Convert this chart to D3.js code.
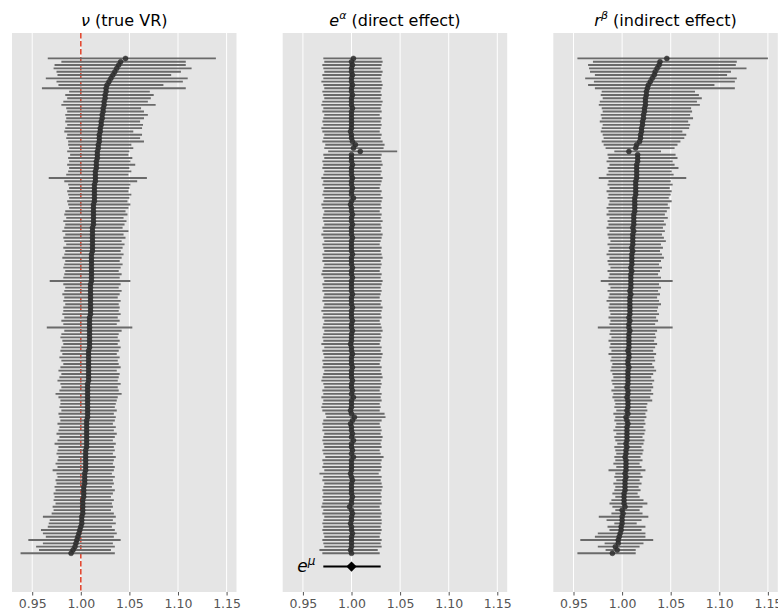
<!DOCTYPE html>
<html>
<head>
<meta charset="utf-8">
<script src="https://cdn.jsdelivr.net/npm/d3@7"></script>
<style>
  body { margin: 0; background: #fff; }
  svg { display: block; font-family: "DejaVu Sans", sans-serif; }
</style>
</head>
<body>
<svg id="chart" width="778" height="612"></svg>
<script>
// rows are listed from the top of the plot to the bottom (150 units)
var nuMean = [
  1.046,1.041,1.039,1.037,1.035,1.033,1.031,1.029,1.027,1.026,
  1.026,1.025,1.025,1.024,1.024,1.023,1.023,1.022,1.022,1.021,
  1.021,1.020,1.020,1.019,1.019,1.019,1.018,1.018,1.017,1.017,
  1.017,1.016,1.016,1.016,1.015,1.015,1.015,1.015,1.014,1.014,
  1.014,1.014,1.014,1.014,1.013,1.013,1.013,1.013,1.013,1.013,
  1.013,1.012,1.012,1.012,1.012,1.012,1.012,1.012,1.012,1.011,
  1.011,1.011,1.011,1.011,1.011,1.011,1.011,1.011,1.010,1.010,
  1.010,1.010,1.010,1.010,1.010,1.010,1.010,1.010,1.009,1.009,
  1.009,1.009,1.009,1.009,1.009,1.009,1.009,1.009,1.008,1.008,
  1.008,1.008,1.008,1.008,1.008,1.008,1.008,1.008,1.007,1.007,
  1.007,1.007,1.007,1.007,1.007,1.007,1.007,1.007,1.007,1.006,
  1.006,1.006,1.006,1.006,1.006,1.006,1.006,1.006,1.005,1.005,
  1.005,1.005,1.005,1.005,1.005,1.004,1.004,1.004,1.004,1.003,
  1.003,1.003,1.003,1.002,1.002,1.002,1.002,1.002,1.001,1.001,
  1.001,1.000,0.999,0.998,0.997,0.996,0.995,0.994,0.992,0.990
];
var nuLo = [
  0.966,0.980,0.973,0.972,0.975,0.976,0.964,0.975,0.977,0.960,
  0.988,0.984,0.986,0.982,0.980,0.985,0.986,0.984,0.985,0.984,
  0.986,0.984,0.983,0.986,0.985,0.987,0.987,0.988,0.986,0.989,
  0.987,0.988,0.986,0.988,0.987,0.985,0.967,0.983,0.987,0.988,
  0.986,0.987,0.988,0.986,0.987,0.988,0.984,0.983,0.985,0.982,
  0.984,0.983,0.981,0.984,0.982,0.983,0.985,0.982,0.984,0.983,
  0.981,0.984,0.983,0.982,0.984,0.983,0.982,0.968,0.982,0.984,
  0.983,0.981,0.983,0.982,0.984,0.982,0.982,0.981,0.983,0.980,
  0.982,0.965,0.983,0.980,0.979,0.981,0.982,0.980,0.979,0.981,
  0.978,0.980,0.982,0.979,0.977,0.980,0.978,0.976,0.979,0.980,
  0.978,0.974,0.977,0.979,0.979,0.978,0.980,0.977,0.978,0.979,
  0.976,0.978,0.977,0.975,0.978,0.976,0.973,0.977,0.976,0.975,
  0.977,0.976,0.974,0.976,0.971,0.975,0.976,0.974,0.975,0.973,
  0.974,0.972,0.973,0.972,0.974,0.971,0.972,0.970,0.961,0.968,
  0.967,0.966,0.959,0.961,0.964,0.946,0.961,0.954,0.957,0.938
];
var nuHi = [
  1.139,1.108,1.108,1.114,1.103,1.093,1.110,1.105,1.085,1.108,
  1.071,1.075,1.072,1.069,1.077,1.062,1.065,1.069,1.065,1.061,
  1.064,1.063,1.054,1.063,1.061,1.065,1.052,1.054,1.050,1.049,
  1.053,1.051,1.056,1.050,1.052,1.049,1.068,1.058,1.051,1.050,
  1.049,1.052,1.050,1.048,1.051,1.049,1.046,1.048,1.044,1.047,
  1.045,1.043,1.049,1.044,1.046,1.042,1.045,1.043,1.041,1.044,
  1.042,1.040,1.043,1.041,1.039,1.042,1.040,1.051,1.041,1.039,
  1.042,1.040,1.038,1.041,1.039,1.040,1.039,1.041,1.038,1.040,
  1.037,1.053,1.042,1.039,1.038,1.040,1.038,1.041,1.039,1.037,
  1.040,1.038,1.039,1.041,1.037,1.040,1.039,1.038,1.041,1.038,
  1.039,1.042,1.038,1.037,1.036,1.035,1.037,1.034,1.036,1.035,
  1.033,1.036,1.034,1.037,1.035,1.033,1.036,1.034,1.035,1.033,
  1.036,1.034,1.033,1.035,1.034,1.032,1.035,1.033,1.034,1.032,
  1.035,1.033,1.031,1.034,1.032,1.033,1.031,1.034,1.036,1.033,
  1.036,1.032,1.035,1.037,1.034,1.041,1.033,1.035,1.031,1.035
];

var alphaMean = [
  1.002,1.000,1.001,1.000,1.000,1.001,1.000,1.000,1.001,1.000,
  1.000,1.001,1.000,1.000,1.000,1.001,1.000,1.000,1.000,1.000,
  1.000,1.000,0.999,1.000,1.000,1.001,1.004,1.002,1.009,1.000,
  1.000,1.000,1.001,1.000,1.000,1.000,1.001,1.000,1.000,1.001,
  1.000,1.000,1.002,1.000,0.999,1.000,1.000,1.001,1.000,1.000,
  1.001,1.000,1.000,1.000,1.001,1.000,1.000,1.000,1.000,1.001,
  1.000,1.000,1.000,1.001,1.000,1.000,1.001,1.000,1.000,1.000,
  1.000,1.001,1.000,1.000,1.000,1.001,1.000,1.000,1.000,1.001,
  1.000,1.000,1.001,1.000,1.000,1.000,0.999,1.000,1.000,1.001,
  1.000,1.000,1.000,1.001,1.000,1.000,1.000,1.001,1.000,1.000,
  1.001,1.000,1.002,1.000,1.000,1.000,0.999,1.000,1.003,1.001,
  0.999,1.000,1.000,1.001,1.000,1.002,1.000,1.000,1.001,1.000,
  1.002,1.000,1.000,1.000,1.000,0.999,1.000,1.001,1.000,1.000,
  1.000,1.000,1.001,1.000,1.000,0.998,1.000,1.001,1.000,1.000,
  0.999,1.000,1.000,1.001,1.000,1.000,1.000,1.000,0.999,1.000
];
var alphaLo = [
  0.971,0.972,0.970,0.971,0.972,0.970,0.971,0.969,0.971,0.972,
  0.970,0.971,0.972,0.970,0.969,0.971,0.970,0.972,0.971,0.970,
  0.971,0.969,0.970,0.972,0.971,0.970,0.973,0.972,0.976,0.971,
  0.972,0.970,0.971,0.970,0.972,0.971,0.969,0.971,0.970,0.972,
  0.971,0.970,0.972,0.971,0.969,0.970,0.972,0.971,0.970,0.971,
  0.972,0.970,0.971,0.969,0.971,0.972,0.970,0.971,0.972,0.970,
  0.971,0.970,0.972,0.971,0.970,0.969,0.971,0.972,0.970,0.971,
  0.970,0.972,0.971,0.970,0.972,0.971,0.969,0.971,0.970,0.972,
  0.971,0.970,0.972,0.971,0.970,0.971,0.969,0.972,0.970,0.971,
  0.972,0.970,0.971,0.970,0.972,0.971,0.970,0.969,0.971,0.972,
  0.970,0.971,0.969,0.971,0.970,0.969,0.970,0.973,0.974,0.971,
  0.970,0.971,0.970,0.972,0.971,0.970,0.971,0.972,0.970,0.971,
  0.973,0.970,0.971,0.970,0.972,0.967,0.971,0.970,0.972,0.971,
  0.970,0.971,0.970,0.971,0.970,0.969,0.971,0.970,0.972,0.971,
  0.970,0.971,0.970,0.971,0.972,0.970,0.971,0.972,0.967,0.970
];
var alphaHi = [
  1.031,1.032,1.031,1.030,1.032,1.031,1.030,1.031,1.032,1.031,
  1.030,1.031,1.030,1.032,1.031,1.030,1.031,1.029,1.031,1.030,
  1.031,1.030,1.029,1.031,1.030,1.032,1.034,1.033,1.047,1.031,
  1.030,1.031,1.032,1.030,1.031,1.030,1.032,1.031,1.030,1.029,
  1.031,1.030,1.032,1.031,1.030,1.031,1.029,1.031,1.030,1.032,
  1.030,1.031,1.030,1.032,1.031,1.030,1.029,1.031,1.030,1.031,
  1.032,1.030,1.031,1.030,1.029,1.031,1.030,1.032,1.031,1.030,
  1.031,1.030,1.029,1.031,1.030,1.032,1.031,1.030,1.031,1.029,
  1.030,1.031,1.032,1.030,1.031,1.030,1.029,1.031,1.030,1.032,
  1.031,1.030,1.029,1.031,1.030,1.031,1.032,1.030,1.031,1.030,
  1.029,1.031,1.030,1.031,1.029,1.030,1.029,1.034,1.035,1.031,
  1.029,1.030,1.031,1.030,1.032,1.031,1.030,1.031,1.029,1.030,
  1.033,1.031,1.030,1.031,1.030,1.028,1.031,1.030,1.031,1.032,
  1.031,1.030,1.031,1.030,1.031,1.029,1.030,1.031,1.030,1.031,
  1.031,1.030,1.031,1.030,1.029,1.031,1.030,1.031,1.027,1.029
];

var betaMean = [
  1.046,1.039,1.038,1.036,1.034,1.033,1.031,1.029,1.027,1.026,
  1.025,1.025,1.024,1.024,1.024,1.023,1.023,1.022,1.022,1.021,
  1.021,1.020,1.020,1.019,1.019,1.018,1.015,1.014,1.007,1.016,
  1.016,1.016,1.015,1.015,1.015,1.015,1.015,1.014,1.014,1.014,
  1.014,1.014,1.013,1.013,1.013,1.013,1.013,1.012,1.012,1.012,
  1.012,1.011,1.012,1.011,1.011,1.011,1.011,1.010,1.011,1.010,
  1.010,1.010,1.010,1.009,1.010,1.009,1.009,1.009,1.009,1.009,
  1.008,1.009,1.008,1.008,1.008,1.008,1.008,1.008,1.007,1.008,
  1.007,1.007,1.008,1.007,1.007,1.007,1.007,1.007,1.006,1.007,
  1.007,1.006,1.006,1.007,1.006,1.006,1.006,1.006,1.006,1.005,
  1.006,1.006,1.005,1.006,1.006,1.006,1.005,1.006,1.004,1.005,
  1.006,1.005,1.005,1.005,1.005,1.005,1.004,1.005,1.004,1.004,
  1.003,1.004,1.004,1.004,1.004,1.003,1.004,1.003,1.003,1.003,
  1.003,1.002,1.002,1.002,1.002,1.003,1.000,1.001,1.000,1.000,
  1.000,0.999,0.999,0.998,0.997,0.996,0.996,0.993,0.995,0.990
];
var betaLo = [
  0.954,0.970,0.965,0.966,0.967,0.972,0.962,0.971,0.965,0.972,
  0.979,0.978,0.980,0.977,0.976,0.979,0.980,0.978,0.979,0.977,
  0.980,0.979,0.978,0.980,0.981,0.979,0.981,0.983,0.992,0.985,
  0.986,0.984,0.987,0.985,0.986,0.984,0.976,0.986,0.985,0.987,
  0.984,0.986,0.985,0.987,0.986,0.984,0.986,0.984,0.987,0.985,
  0.986,0.984,0.987,0.985,0.986,0.988,0.985,0.987,0.986,0.984,
  0.987,0.985,0.986,0.988,0.985,0.987,0.986,0.978,0.986,0.988,
  0.985,0.987,0.986,0.984,0.987,0.986,0.987,0.988,0.986,0.988,
  0.987,0.975,0.988,0.987,0.989,0.986,0.988,0.987,0.989,0.986,
  0.989,0.988,0.990,0.989,0.988,0.990,0.991,0.989,0.990,0.992,
  0.989,0.991,0.990,0.992,0.993,0.992,0.994,0.991,0.993,0.992,
  0.994,0.993,0.991,0.994,0.992,0.993,0.995,0.992,0.993,0.994,
  0.992,0.993,0.991,0.994,0.986,0.993,0.992,0.994,0.991,0.993,
  0.992,0.990,0.993,0.989,0.987,0.990,0.993,0.989,0.976,0.984,
  0.992,0.985,0.987,0.975,0.972,0.957,0.982,0.975,0.983,0.954
];
var betaHi = [
  1.150,1.118,1.117,1.128,1.112,1.108,1.118,1.116,1.095,1.116,
  1.075,1.079,1.082,1.077,1.080,1.071,1.072,1.070,1.073,1.068,
  1.070,1.069,1.062,1.066,1.064,1.060,1.057,1.054,1.040,1.055,
  1.057,1.052,1.054,1.058,1.051,1.053,1.066,1.050,1.052,1.049,
  1.051,1.050,1.048,1.051,1.047,1.049,1.046,1.044,1.047,1.043,
  1.045,1.042,1.044,1.041,1.043,1.045,1.040,1.042,1.039,1.041,
  1.043,1.040,1.038,1.041,1.039,1.037,1.040,1.052,1.038,1.040,
  1.037,1.039,1.036,1.038,1.040,1.037,1.036,1.038,1.035,1.037,
  1.034,1.052,1.036,1.034,1.035,1.033,1.036,1.034,1.032,1.035,
  1.033,1.034,1.031,1.033,1.035,1.032,1.030,1.033,1.031,1.032,
  1.030,1.032,1.029,1.031,1.026,1.025,1.026,1.024,1.025,1.023,
  1.024,1.022,1.024,1.023,1.021,1.023,1.022,1.020,1.022,1.021,
  1.019,1.021,1.018,1.020,1.024,1.019,1.021,1.018,1.020,1.017,
  1.019,1.016,1.018,1.022,1.026,1.021,1.018,1.021,1.027,1.020,
  1.015,1.024,1.020,1.024,1.024,1.032,1.022,1.018,1.014,1.014
];

// pooled effect e^mu shown below the direct-effect column
var muMean = 1.000, muLo = 0.971, muHi = 1.030;

var xTicks = [0.95, 1.00, 1.05, 1.10, 1.15];

(function() {
  var panels = [
    { title: [["ν", true, false], [" (true VR)", false, false]], mean: nuMean, lo: nuLo, hi: nuHi, refLine: true },
    { title: [["e", true, false], ["α", true, true], [" (direct effect)", false, false]], mean: alphaMean, lo: alphaLo, hi: alphaHi, pooled: true },
    { title: [["r", true, false], ["β", true, true], [" (indirect effect)", false, false]], mean: betaMean, lo: betaLo, hi: betaHi }
  ];

  var svg = d3.select("#chart");
  var lefts = [12, 282.7, 553.3];
  var pw = 224.5, plotTop = 33, plotBottom = 592;
  var n = nuMean.length;

  var x = d3.scaleLinear().domain([0.9292, 1.1602]).range([0, pw]);
  // row position: top row = n-1, bottom row = 0, pooled row at -4
  var y = d3.scaleLinear().domain([-11.65, n - 1 + 7.65]).range([plotBottom, plotTop]);
  var rowY = function(i) { return y(n - 1 - i); };

  panels.forEach(function(p, k) {
    var g = svg.append("g").attr("transform", "translate(" + lefts[k] + ",0)");

    g.append("rect")
      .attr("x", 0).attr("y", plotTop)
      .attr("width", pw).attr("height", plotBottom - plotTop)
      .attr("fill", "#E5E5E5");

    g.selectAll(".grid").data(xTicks).enter()
      .append("line")
      .attr("x1", function(d) { return x(d); })
      .attr("x2", function(d) { return x(d); })
      .attr("y1", plotTop).attr("y2", plotBottom)
      .attr("stroke", "#fff").attr("stroke-width", 1);

    // title with math italics
    var t = g.append("text")
      .attr("x", pw / 2).attr("y", 26)
      .attr("text-anchor", "middle")
      .attr("font-size", 16).attr("fill", "#000");
    p.title.forEach(function(part) {
      var s = t.append("tspan").text(part[0]);
      if (part[1]) s.attr("font-style", "italic");
      if (part[2]) s.attr("font-size", 11).attr("dy", -7);
      else if (part[0].charAt(0) === " " && p.title.length > 2) s.attr("dy", 7);
    });

    if (p.refLine) {
      g.append("line")
        .attr("x1", x(1)).attr("x2", x(1))
        .attr("y1", plotTop).attr("y2", plotBottom)
        .attr("stroke", "#E24A33").attr("stroke-width", 1.6)
        .attr("stroke-dasharray", "5.5,2.5");
    }

    var idx = d3.range(n);
    g.selectAll(".bar").data(idx).enter()
      .append("line")
      .attr("x1", function(i) { return x(p.lo[i]); })
      .attr("x2", function(i) { return x(p.hi[i]); })
      .attr("y1", rowY).attr("y2", rowY)
      .attr("stroke", "#6a6a6a").attr("stroke-width", 1.9);

    g.selectAll(".pt").data(idx).enter()
      .append("circle")
      .attr("cx", function(i) { return x(p.mean[i]); })
      .attr("cy", rowY)
      .attr("r", 2.5)
      .attr("fill", "#333")
      .attr("fill-opacity", 0.9)
      .attr("stroke", "#222").attr("stroke-width", 0.4);

    if (p.pooled) {
      var py = y(-4);
      g.append("line")
        .attr("x1", x(muLo)).attr("x2", x(muHi))
        .attr("y1", py).attr("y2", py)
        .attr("stroke", "#000").attr("stroke-width", 2);
      g.append("path")
        .attr("d", d3.symbol(d3.symbolSquare, 52)())
        .attr("transform", "translate(" + x(muMean) + "," + py + ") rotate(45)")
        .attr("fill", "#000");
      var lbl = g.append("text")
        .attr("x", x(muLo) - 8).attr("y", py + 5)
        .attr("text-anchor", "end")
        .attr("font-size", 17).attr("fill", "#000");
      lbl.append("tspan").attr("font-style", "italic").text("e");
      lbl.append("tspan").attr("font-style", "italic").attr("font-size", 12).attr("dy", -7).text("μ");
    }

    var axis = d3.axisBottom(x)
      .tickValues(xTicks)
      .tickFormat(d3.format(".2f"))
      .tickSize(3.5).tickPadding(4);
    var ax = g.append("g")
      .attr("transform", "translate(0," + plotBottom + ")")
      .call(axis);
    ax.select(".domain").remove();
    ax.selectAll(".tick line").attr("stroke", "#555");
    ax.selectAll(".tick text")
      .attr("fill", "#555")
      .attr("font-size", 12.5)
      .attr("font-family", "DejaVu Sans, sans-serif");
  });
})();
</script>
</body>
</html>
